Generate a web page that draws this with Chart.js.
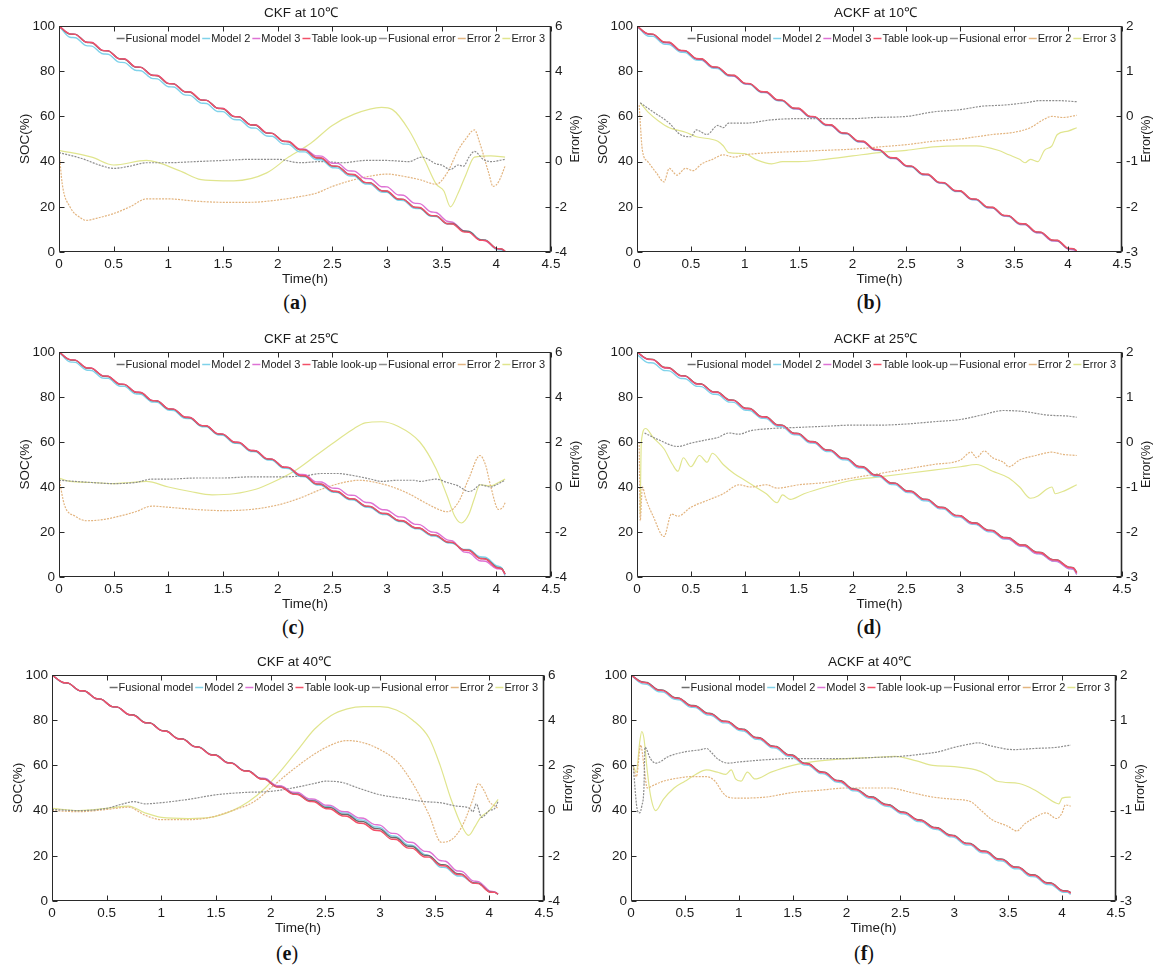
<!DOCTYPE html>
<html>
<head>
<meta charset="utf-8">
<title>SOC estimation with CKF / ACKF</title>
<script src="https://cdn.jsdelivr.net/npm/chart.js@4.4.0/dist/chart.umd.min.js"></script>
<style>
  body { margin: 0; width: 1169px; height: 965px; background: #fff; position: relative; overflow: hidden; }
  canvas { position: absolute; }
  .tag { position: absolute; width: 60px; margin-left: -30px; text-align: center; font: 20px "Liberation Serif", "DejaVu Serif", serif; color: #111; line-height: 20px; }
</style>
</head>
<body>
<script>
'use strict';

// time of the SOC samples (h): start and end of every discharge pulse
const socTime = [0,0.1,0.15,0.25,0.3,0.4,0.45,0.55,0.6,0.7,0.75,0.85,0.9,1,1.05,1.15,1.2,1.3,1.35,1.45,1.5,1.6,1.65,1.75,1.8,1.9,1.95,2.05,2.1,2.2,2.25,2.35,2.4,2.5,2.55,2.65,2.7,2.8,2.85,2.95,3,3.1,3.15,3.25,3.3,3.4,3.45,3.55,3.6,3.7,3.75,3.85,3.9,4,4.05,4.08];

// SOC (%) - CKF at 10°C
const fusSocA = [100,96.4,96.3,92.8,92.6,89.1,89.0,85.5,85.3,81.8,81.7,78.2,78.0,74.5,74.4,70.9,70.7,67.2,67.1,63.6,63.4,59.9,59.8,56.3,56.1,52.6,52.5,49.0,48.8,45.3,45.2,41.7,41.5,38.0,37.9,34.4,34.2,30.7,30.6,27.1,26.9,23.4,23.3,19.8,19.6,16.1,16.0,12.6,12.6,9.3,9.1,5.4,5.2,1.6,1.3,0.3];
const m2SocA = [100,95.0,94.8,91.3,91.1,87.7,87.5,84.0,83.8,80.4,80.2,76.8,76.6,73.1,73.0,69.5,69.3,65.9,65.7,62.2,62.1,58.6,58.5,55.0,54.8,51.3,51.2,47.8,47.7,44.3,44.3,40.9,40.8,37.3,37.2,33.7,33.6,30.1,30.0,26.5,26.4,22.9,22.8,19.3,19.2,15.8,15.7,12.4,12.4,9.2,9.1,5.6,5.3,1.2,0.9,0];
const m3SocA = [100,96.5,96.3,92.8,92.7,89.2,89.0,85.5,85.4,81.9,81.7,78.2,78.1,74.6,74.4,70.9,70.8,67.3,67.1,63.6,63.5,60.0,59.8,56.3,56.2,52.7,52.5,49.0,48.9,45.6,45.5,42.5,42.4,39.3,39.2,35.9,35.8,32.5,32.4,28.9,28.8,25.3,25.1,21.6,21.4,17.8,17.5,13.6,13.2,9.3,8.9,5.3,5.0,1.5,1.2,0.2];
const refSocA = [100,96.5,96.3,92.8,92.7,89.2,89.0,85.5,85.4,81.9,81.7,78.2,78.1,74.6,74.4,70.9,70.8,67.3,67.1,63.6,63.5,60.0,59.8,56.3,56.2,52.7,52.5,49.0,48.9,45.4,45.2,41.7,41.6,38.1,37.9,34.4,34.3,30.8,30.6,27.1,27.0,23.5,23.3,19.8,19.7,16.2,16.0,12.5,12.4,8.9,8.7,5.2,5.1,1.6,1.4,0.4];

// SOC (%) - ACKF at 10°C
const fusSocB = [100,96.5,96.3,92.8,92.7,89.2,89.0,85.5,85.4,81.9,81.7,78.2,78.1,74.6,74.4,70.9,70.8,67.3,67.1,63.6,63.5,60.0,59.8,56.3,56.2,52.7,52.5,49.0,48.9,45.4,45.2,41.7,41.6,38.1,37.9,34.4,34.3,30.8,30.6,27.1,27.0,23.5,23.3,19.8,19.7,16.2,16.0,12.5,12.4,8.9,8.7,5.2,5.1,1.6,1.4,0.4];
const m2SocB = [100,95.6,95.4,92.0,91.8,88.5,88.3,84.9,84.8,81.4,81.2,77.8,77.7,74.3,74.1,70.6,70.5,67.0,66.8,63.3,63.2,59.7,59.5,56.0,55.9,52.4,52.2,48.7,48.6,45.1,44.9,41.4,41.3,37.8,37.6,34.1,34.0,30.5,30.3,26.8,26.7,23.2,23.0,19.5,19.4,15.9,15.7,12.2,12.1,8.6,8.4,4.9,4.8,1.3,1.1,0.2];
const m3SocB = [100,96.4,96.2,92.7,92.5,89.0,88.9,85.4,85.2,81.7,81.6,78.1,77.9,74.4,74.3,70.8,70.6,67.1,67.0,63.5,63.3,59.8,59.7,56.2,56.0,52.5,52.4,48.9,48.7,45.2,45.1,41.6,41.4,37.9,37.8,34.3,34.1,30.6,30.5,27.0,26.8,23.3,23.2,19.7,19.5,16.0,15.9,12.3,12.1,8.6,8.4,4.9,4.8,1.3,1.0,0.1];
const refSocB = [100,96.6,96.4,92.9,92.8,89.3,89.1,85.6,85.5,82.0,81.8,78.3,78.2,74.7,74.5,71.0,70.9,67.4,67.2,63.7,63.6,60.1,59.9,56.4,56.3,52.8,52.6,49.1,49.0,45.5,45.3,41.8,41.7,38.2,38.0,34.5,34.4,30.9,30.7,27.2,27.1,23.6,23.4,19.9,19.8,16.3,16.1,12.6,12.5,9.0,8.8,5.3,5.2,1.7,1.5,0.5];

// SOC (%) - CKF at 25°C
const fusSocC = [100,96.5,96.3,92.9,92.7,89.3,89.1,85.7,85.5,82.1,81.9,78.4,78.2,74.7,74.5,71.0,70.8,67.3,67.1,63.6,63.4,59.9,59.7,56.2,56.0,52.5,52.3,48.8,48.6,45.1,44.9,41.4,41.2,38.1,37.9,34.8,34.6,31.5,31.3,28.3,28.1,25.1,24.9,21.9,21.7,18.7,18.5,15.5,15.3,12.0,11.9,8.3,8.1,4.4,3.7,1.4];
const m2SocC = [100,95.6,95.4,92.0,91.8,88.4,88.3,84.9,84.7,81.4,81.2,77.8,77.6,74.2,74.0,70.5,70.4,66.9,66.7,63.2,63.0,59.5,59.3,55.8,55.6,52.1,51.9,48.4,48.2,44.7,44.5,41.0,40.8,37.7,37.5,34.4,34.2,31.1,30.9,27.9,27.7,24.7,24.5,21.5,21.3,18.3,18.1,15.2,15.0,12.3,12.2,9.0,8.8,5.0,4.0,0.6];
const m3SocC = [100,96.6,96.4,93.0,92.8,89.4,89.2,85.8,85.6,82.2,82.0,78.5,78.3,74.8,74.6,71.1,70.9,67.4,67.2,63.7,63.5,60.0,59.8,56.3,56.1,52.6,52.4,48.9,48.7,45.6,45.5,42.3,42.2,39.5,39.4,36.4,36.3,33.2,33.0,30.0,29.8,26.8,26.6,23.5,23.3,20.1,19.8,16.5,16.0,11.2,10.8,7.2,7.0,3.8,3.4,1.2];
const refSocC = [100,96.6,96.4,93.0,92.8,89.4,89.2,85.8,85.6,82.2,82.0,78.5,78.3,74.8,74.6,71.1,70.9,67.4,67.2,63.7,63.5,60.0,59.8,56.3,56.1,52.6,52.4,48.9,48.7,45.2,45.0,41.5,41.3,38.2,38.0,34.9,34.7,31.6,31.4,28.4,28.2,25.2,25.0,22.0,21.8,18.8,18.6,15.6,15.4,12.0,11.8,8.2,8.0,4.2,3.6,1.3];

// SOC (%) - ACKF at 25°C
const fusSocD = [100,96.9,96.7,93.2,93.0,89.6,89.4,86.0,85.8,82.4,82.2,78.8,78.6,75.1,74.9,71.4,71.2,67.7,67.5,64.0,63.8,60.3,60.1,56.6,56.4,52.9,52.7,49.2,49.0,45.5,45.3,41.9,41.7,38.3,38.1,34.7,34.5,31.1,30.9,27.5,27.3,24.2,24.0,20.9,20.7,17.6,17.5,14.4,14.2,11.1,10.9,7.8,7.6,4.5,4.1,2.0];
const m2SocD = [99.0,95.3,95.1,91.8,91.6,88.3,88.1,84.8,84.6,81.3,81.1,77.8,77.6,74.2,74.0,70.6,70.4,67.0,66.8,63.3,63.1,59.6,59.4,55.9,55.7,52.2,52.0,48.5,48.3,44.8,44.6,41.2,41.0,37.6,37.4,34.0,33.8,30.4,30.2,26.8,26.6,23.5,23.3,20.2,20.0,16.9,16.8,13.7,13.5,10.4,10.2,7.1,6.9,3.8,3.4,1.2];
const m3SocD = [100,96.7,96.5,93.0,92.8,89.4,89.2,85.8,85.6,82.2,82.0,78.6,78.4,74.9,74.7,71.2,71.0,67.5,67.3,63.8,63.6,60.1,59.9,56.4,56.2,52.7,52.5,49.0,48.8,45.3,45.1,41.7,41.5,38.1,37.9,34.5,34.3,30.9,30.7,27.3,27.1,23.9,23.7,20.6,20.4,17.2,17.0,13.9,13.7,10.5,10.3,7.2,7.0,3.9,3.5,1.2];
const refSocD = [100,96.8,96.6,93.1,92.9,89.5,89.3,85.9,85.7,82.3,82.1,78.7,78.5,75.0,74.8,71.3,71.1,67.6,67.4,63.9,63.7,60.2,60.0,56.5,56.3,52.8,52.6,49.1,48.9,45.4,45.2,41.8,41.6,38.2,38.0,34.6,34.4,31.0,30.8,27.4,27.2,24.1,23.9,20.8,20.6,17.5,17.4,14.3,14.1,11.0,10.8,7.7,7.5,4.4,4.0,1.8];

// SOC (%) - CKF at 40°C
const fusSocE = [100,96.7,96.4,93.1,92.9,89.6,89.3,86.0,85.8,82.5,82.3,79.0,78.8,75.5,75.2,71.9,71.7,68.4,68.1,64.8,64.6,61.3,61.0,57.7,57.5,54.2,53.9,50.6,50.4,47.5,47.3,44.4,44.3,41.4,41.3,38.4,38.3,35.3,35.1,32.1,31.9,28.2,28.0,24.3,24.1,20.3,20.1,16.2,16.0,12.2,11.9,8.1,7.9,4.1,3.8,3.0];
const m2SocE = [100,96.6,96.3,93.0,92.8,89.5,89.2,85.9,85.7,82.4,82.2,78.9,78.7,75.4,75.1,71.8,71.6,68.3,68.1,64.8,64.6,61.3,61.0,57.8,57.6,54.3,54.1,50.9,50.7,47.8,47.7,44.8,44.7,41.9,41.8,39.0,38.9,36.0,35.8,32.8,32.6,28.9,28.6,24.9,24.6,20.8,20.0,15.0,14.8,11.2,11.0,8.0,7.8,4.3,3.9,3.0];
const m3SocE = [100,96.7,96.4,93.1,92.9,89.6,89.3,86.0,85.8,82.5,82.2,78.9,78.7,75.4,75.1,71.8,71.6,68.3,68.0,64.7,64.5,61.2,61.0,57.8,57.6,54.4,54.2,51.1,50.9,48.1,48.0,45.2,45.1,42.4,42.3,39.6,39.5,36.8,36.6,33.8,33.6,30.0,29.8,26.1,25.9,22.1,21.8,17.9,17.6,13.4,13.1,8.9,8.6,4.5,4.0,3.0];
const refSocE = [100,96.7,96.4,93.1,92.9,89.6,89.3,86.0,85.8,82.5,82.2,78.9,78.7,75.4,75.1,71.8,71.6,68.3,68.0,64.7,64.5,61.2,60.9,57.6,57.4,54.1,53.8,50.5,50.3,47.3,47.1,44.1,43.9,40.9,40.7,37.7,37.5,34.5,34.3,31.3,31.1,27.4,27.2,23.5,23.3,19.6,19.4,15.7,15.5,11.8,11.6,7.9,7.7,4.0,3.8,3.0];

// SOC (%) - ACKF at 40°C
const fusSocF = [100,97.0,96.7,93.5,93.3,90.1,89.8,86.6,86.4,83.2,82.9,79.7,79.5,76.3,76.0,72.5,72.2,68.7,68.4,64.9,64.6,61.1,60.8,57.3,57.0,53.5,53.2,49.7,49.4,46.3,46.0,42.9,42.6,39.5,39.2,36.1,35.8,32.7,32.4,29.3,29.0,25.7,25.5,22.2,22.0,18.7,18.5,15.2,15.0,11.7,11.5,8.2,8.0,4.7,4.5,3.7];
const m2SocF = [100,96.2,95.9,92.7,92.5,89.3,89.0,85.8,85.6,82.4,82.1,78.9,78.7,75.5,75.2,71.7,71.4,67.9,67.6,64.1,63.8,60.3,60.0,56.5,56.2,52.7,52.4,48.9,48.6,45.5,45.2,42.1,41.8,38.7,38.4,35.3,35.0,31.9,31.6,28.5,28.2,24.9,24.7,21.4,21.2,17.9,17.7,14.4,14.2,10.9,10.7,7.4,7.2,4.0,3.8,2.9];
const m3SocF = [100,96.9,96.6,93.4,93.1,89.9,89.6,86.4,86.2,83.0,82.7,79.5,79.3,76.1,75.8,72.3,72.0,68.5,68.2,64.7,64.4,60.9,60.6,57.1,56.8,53.3,53.0,49.5,49.2,46.1,45.8,42.7,42.4,39.3,39.0,35.9,35.6,32.5,32.2,29.1,28.8,25.5,25.3,22.0,21.8,18.5,18.3,15.0,14.8,11.5,11.3,8.0,7.8,4.6,4.3,3.6];
const refSocF = [100,96.8,96.5,93.3,93.1,89.9,89.6,86.4,86.2,83.0,82.7,79.5,79.3,76.1,75.8,72.3,72.0,68.5,68.2,64.7,64.4,60.9,60.6,57.1,56.8,53.3,53.0,49.5,49.2,46.1,45.8,42.7,42.4,39.3,39.0,35.9,35.6,32.5,32.2,29.1,28.8,25.5,25.3,22.0,21.8,18.5,18.3,15.0,14.8,11.5,11.3,8.0,7.8,4.5,4.3,3.5];

// estimation errors (%), every trace with its own sample times (h)
const fusErrTimeA = [0,0.2,0.4,0.5,0.65,0.8,1.0,1.25,1.5,1.75,2.0,2.2,2.4,2.6,2.8,3.0,3.2,3.32,3.45,3.5,3.58,3.65,3.7,3.75,3.8,3.88,3.95,4.08];
const fusErrA = [0.4,0.15,-0.2,-0.3,-0.2,-0.05,-0.05,0,0.05,0.1,0.1,-0.05,0,-0.05,0.05,0.05,0,0.2,-0.1,-0.15,-0.35,-0.15,-0.2,0.2,0.45,0.1,0,0.1];
const err2TimeA = [0,0.03,0.1,0.2,0.25,0.35,0.5,0.65,0.8,1.0,1.25,1.5,1.75,2.0,2.2,2.35,2.5,2.7,2.9,3.0,3.15,3.3,3.45,3.55,3.65,3.72,3.8,3.85,3.93,3.97,4.02,4.08];
const err2A = [0.5,-1.0,-2.0,-2.5,-2.6,-2.5,-2.3,-2.0,-1.65,-1.65,-1.75,-1.8,-1.8,-1.7,-1.55,-1.4,-1.1,-0.8,-0.6,-0.55,-0.65,-0.8,-1.0,-0.5,0.5,1.0,1.4,0.8,-0.5,-1.1,-0.9,-0.2];
const err3TimeA = [0,0.3,0.5,0.8,1.1,1.3,1.5,1.6,1.9,2.1,2.3,2.5,2.7,2.95,3.05,3.2,3.35,3.45,3.52,3.58,3.65,3.72,3.8,3.95,4.08];
const err3A = [0.5,0.2,-0.15,0.05,-0.4,-0.8,-0.85,-0.85,-0.5,0.2,0.8,1.6,2.1,2.4,2.3,1.4,0,-1.0,-1.3,-2.0,-1.4,-0.6,0.2,0.25,0.2];

const fusErrTimeB = [0.03,0.15,0.3,0.4,0.5,0.55,0.65,0.75,0.8,0.85,1.0,1.25,1.5,2.0,2.2,2.5,2.75,3.0,3.2,3.4,3.6,3.75,3.9,4.08];
const fusErrB = [0.3,0.1,-0.15,-0.4,-0.45,-0.3,-0.4,-0.2,-0.25,-0.15,-0.15,-0.075,-0.05,-0.05,-0.025,0,0.1,0.15,0.225,0.25,0.3,0.35,0.35,0.325];
const err2TimeB = [0.02,0.05,0.1,0.18,0.25,0.3,0.37,0.45,0.52,0.6,0.7,0.8,0.9,1.0,1.25,1.5,1.75,2.0,2.25,2.5,2.75,3.0,3.15,3.3,3.5,3.65,3.75,3.85,3.95,4.08];
const err2B = [0.25,-0.75,-1.0,-1.25,-1.45,-1.15,-1.3,-1.15,-1.2,-1.05,-0.95,-0.85,-0.9,-0.85,-0.8,-0.775,-0.75,-0.725,-0.675,-0.625,-0.55,-0.5,-0.45,-0.4,-0.35,-0.25,-0.1,0,-0.025,0.025];
const err3TimeB = [0.03,0.1,0.2,0.3,0.45,0.55,0.75,0.8,0.85,1.0,1.1,1.25,1.35,1.5,1.75,2.0,2.25,2.5,2.75,3.0,3.15,3.35,3.45,3.55,3.6,3.65,3.72,3.78,3.85,3.9,4.0,4.08];
const err3B = [0.3,0.1,-0.1,-0.25,-0.35,-0.45,-0.55,-0.65,-0.8,-0.825,-0.95,-1.05,-1.0,-1.0,-0.95,-0.875,-0.8,-0.75,-0.675,-0.65,-0.65,-0.75,-0.85,-0.95,-1.025,-0.95,-1.0,-0.75,-0.65,-0.4,-0.325,-0.25];

const fusErrTimeC = [0,0.3,0.5,0.7,0.85,1.0,1.25,1.5,1.75,2.0,2.25,2.4,2.55,2.7,2.85,2.95,3.1,3.25,3.3,3.45,3.55,3.65,3.75,3.8,3.85,3.95,4.0,4.08];
const fusErrC = [0.3,0.2,0.15,0.2,0.35,0.35,0.4,0.4,0.45,0.45,0.5,0.6,0.6,0.5,0.35,0.25,0.3,0.3,0.25,0.35,0.2,0.05,-0.2,-0.1,0.1,0,0.1,0.3];
const err2TimeC = [0,0.05,0.15,0.25,0.4,0.55,0.7,0.85,1.0,1.25,1.5,1.75,2.0,2.2,2.4,2.6,2.75,2.9,3.05,3.2,3.35,3.5,3.55,3.65,3.75,3.85,3.9,3.95,4.02,4.06,4.08];
const err2C = [0.4,-0.8,-1.3,-1.5,-1.45,-1.3,-1.1,-0.85,-0.9,-1.0,-1.05,-1.0,-0.8,-0.5,-0.1,0.2,0.3,0.2,0,-0.3,-0.7,-1.05,-1.1,-0.7,0.4,1.4,1.0,0,-1.0,-0.9,-0.7];
const err3TimeC = [0,0.1,0.3,0.5,0.65,0.8,1.0,1.2,1.4,1.6,1.8,1.95,2.15,2.35,2.55,2.7,2.8,2.95,3.1,3.3,3.45,3.55,3.62,3.68,3.75,3.8,3.85,3.95,4.02,4.08];
const err3C = [0.4,0.25,0.2,0.15,0.2,0.25,0,-0.2,-0.35,-0.3,-0.1,0.2,0.7,1.4,2.1,2.6,2.85,2.9,2.7,2.0,0.8,-0.4,-1.3,-1.6,-1.2,-0.5,0.1,0.05,0.2,0.35];

const fusErrTimeD = [0.07,0.2,0.38,0.5,0.65,0.75,0.85,0.95,1.05,1.25,1.5,1.75,2.0,2.25,2.5,2.75,3.0,3.2,3.4,3.6,3.8,4.0,4.08];
const fusErrD = [0.2,0.05,-0.1,-0.025,0.05,0.1,0.2,0.175,0.25,0.3,0.325,0.35,0.375,0.375,0.4,0.45,0.5,0.6,0.7,0.675,0.6,0.575,0.55];
const err2TimeD = [0.02,0.03,0.05,0.08,0.15,0.25,0.32,0.38,0.5,0.65,0.8,0.95,1.05,1.2,1.3,1.5,1.75,2.0,2.25,2.5,2.75,3.0,3.1,3.15,3.22,3.3,3.4,3.45,3.55,3.7,3.85,3.95,4.08];
const err2D = [0,-1.75,-1.0,-1.25,-1.65,-2.1,-1.6,-1.65,-1.45,-1.3,-1.15,-0.95,-1.0,-0.95,-1.025,-0.95,-0.9,-0.8,-0.7,-0.6,-0.5,-0.4,-0.225,-0.35,-0.2,-0.35,-0.45,-0.55,-0.4,-0.3,-0.225,-0.275,-0.3];
const err3TimeD = [0.03,0.04,0.08,0.15,0.25,0.33,0.38,0.43,0.5,0.58,0.65,0.7,0.8,0.9,1.0,1.1,1.2,1.3,1.35,1.42,1.55,1.75,2.0,2.25,2.5,2.75,3.0,3.15,3.3,3.45,3.55,3.65,3.72,3.8,3.85,3.88,3.95,4.08];
const err3D = [-1.6,0,0.3,0.1,-0.15,-0.5,-0.65,-0.35,-0.55,-0.3,-0.45,-0.25,-0.5,-0.7,-0.85,-1.0,-1.15,-1.35,-1.175,-1.275,-1.15,-1.0,-0.85,-0.775,-0.7,-0.625,-0.55,-0.5,-0.65,-0.8,-1.0,-1.25,-1.2,-1.05,-1.0,-1.15,-1.1,-0.95];

const fusErrTimeE = [0,0.25,0.5,0.65,0.75,0.85,1.0,1.25,1.5,1.75,2.0,2.2,2.4,2.5,2.65,2.8,3.0,3.2,3.4,3.55,3.7,3.82,3.85,3.88,3.93,4.0,4.05,4.08];
const fusErrE = [0.05,0,0.1,0.3,0.4,0.3,0.35,0.5,0.7,0.8,0.85,1.0,1.2,1.3,1.25,1.0,0.7,0.55,0.4,0.35,0.2,0.1,-0.05,0.3,-0.3,0,0.1,0.4];
const err2TimeE = [0,0.25,0.5,0.7,0.85,1.0,1.25,1.45,1.65,1.85,2.0,2.2,2.4,2.55,2.7,2.85,3.0,3.15,3.3,3.45,3.56,3.65,3.75,3.85,3.9,3.95,4.0,4.05,4.08];
const err2E = [0,-0.05,0.05,0.15,-0.2,-0.4,-0.4,-0.3,0,0.4,1.0,1.8,2.5,2.9,3.1,3.0,2.7,2.2,1.2,-0.2,-1.4,-1.3,-0.7,0.5,1.2,0.9,0.4,0.2,0.1];
const err3TimeE = [0,0.25,0.5,0.7,0.85,1.0,1.25,1.45,1.65,1.8,1.95,2.1,2.25,2.4,2.55,2.7,2.85,3.0,3.15,3.3,3.45,3.55,3.65,3.75,3.81,3.87,3.92,4.0,4.05,4.08];
const err3E = [0.1,0,0.1,0.2,-0.1,-0.3,-0.35,-0.3,0,0.4,1.0,1.8,2.7,3.6,4.2,4.5,4.6,4.6,4.45,4.0,3.2,2.0,0.5,-0.7,-1.1,-0.7,-0.3,0,0.3,0.5];

const fusErrTimeF = [0.02,0.06,0.08,0.1,0.12,0.13,0.18,0.23,0.35,0.5,0.65,0.7,0.75,0.8,0.9,1.0,1.25,1.5,1.75,2.0,2.25,2.5,2.7,2.85,3.0,3.15,3.22,3.35,3.55,3.75,3.95,4.08];
const fusErrF = [0,-1.0,-1.05,-0.9,-0.5,0.4,0.15,0.05,0.2,0.3,0.35,0.375,0.275,0.15,0.05,0.075,0.125,0.15,0.15,0.15,0.175,0.2,0.25,0.3,0.4,0.475,0.5,0.425,0.35,0.375,0.4,0.45];
const err2TimeF = [0.02,0.05,0.09,0.12,0.15,0.2,0.3,0.45,0.55,0.7,0.78,0.85,0.9,1.0,1.25,1.5,1.75,2.0,2.25,2.4,2.6,2.8,3.0,3.15,3.25,3.35,3.5,3.58,3.65,3.75,3.85,3.95,4.0,4.03,4.08];
const err2F = [0,-0.25,0.45,0,-0.5,-0.45,-0.35,-0.275,-0.25,-0.25,-0.35,-0.6,-0.7,-0.725,-0.7,-0.6,-0.55,-0.5,-0.5,-0.5,-0.6,-0.7,-0.75,-0.8,-1.0,-1.2,-1.35,-1.45,-1.3,-1.15,-1.05,-1.175,-1.05,-0.875,-0.9];
const err3TimeF = [0.02,0.05,0.08,0.1,0.12,0.15,0.18,0.23,0.3,0.4,0.5,0.6,0.7,0.8,0.88,0.93,0.97,1.02,1.08,1.15,1.3,1.5,1.75,2.0,2.25,2.45,2.65,2.8,3.0,3.2,3.3,3.4,3.6,3.75,3.85,3.97,4.0,4.08];
const err3F = [0,-0.15,0.5,0.75,0.6,-0.1,-0.65,-1.0,-0.75,-0.5,-0.35,-0.2,-0.1,-0.15,-0.2,-0.1,-0.3,-0.35,-0.15,-0.3,-0.15,0,0.1,0.15,0.175,0.2,0.1,0,-0.025,-0.1,-0.2,-0.35,-0.4,-0.55,-0.7,-0.85,-0.725,-0.7];

// axis ticks
const xTicks = [0, 0.5, 1, 1.5, 2, 2.5, 3, 3.5, 4, 4.5];
const socTicks = [0, 20, 40, 60, 80, 100];
const errTicksCkf = [-4, -2, 0, 2, 4, 6];
const errTicksAckf = [-3, -2, -1, 0, 1, 2];

const seriesNames = ['Fusional model', 'Model 2', 'Model 3', 'Table look-up', 'Fusional error', 'Error 2', 'Error 3'];
const seriesColors = ['#6c6c6c', '#7fd2ea', '#de72d4', '#f25068', '#8e8e8e', '#e3b580', '#e0e58e'];
const seriesOrder = [1, 3, 2, 0, 4, 5, 6];

// widths reserved around each plot box
const AXIS_L = 42, AXIS_R = 34, TITLE_H = 26, AXIS_B = 35;

const panels = [
  { box: [59, 26, 551, 252], title: 'CKF at 10℃', tag: 'a', tagPos: [295, 292],
    soc: [fusSocA, m2SocA, m3SocA, refSocA], errTicks: errTicksCkf,
    err: [[fusErrTimeA, fusErrA], [err2TimeA, err2A], [err3TimeA, err3A]] },
  { box: [637, 26, 1122, 252], title: 'ACKF at 10℃', tag: 'b', tagPos: [869, 292],
    soc: [fusSocB, m2SocB, m3SocB, refSocB], errTicks: errTicksAckf,
    err: [[fusErrTimeB, fusErrB], [err2TimeB, err2B], [err3TimeB, err3B]] },
  { box: [59, 352, 551, 577], title: 'CKF at 25℃', tag: 'c', tagPos: [293, 617],
    soc: [fusSocC, m2SocC, m3SocC, refSocC], errTicks: errTicksCkf,
    err: [[fusErrTimeC, fusErrC], [err2TimeC, err2C], [err3TimeC, err3C]] },
  { box: [637, 352, 1122, 577], title: 'ACKF at 25℃', tag: 'd', tagPos: [869, 617],
    soc: [fusSocD, m2SocD, m3SocD, refSocD], errTicks: errTicksAckf,
    err: [[fusErrTimeD, fusErrD], [err2TimeD, err2D], [err3TimeD, err3D]] },
  { box: [52, 675, 544, 901], title: 'CKF at 40℃', tag: 'e', tagPos: [287, 943],
    soc: [fusSocE, m2SocE, m3SocE, refSocE], errTicks: errTicksCkf,
    err: [[fusErrTimeE, fusErrE], [err2TimeE, err2E], [err3TimeE, err3E]] },
  { box: [631, 675, 1116, 901], title: 'ACKF at 40℃', tag: 'f', tagPos: [864, 943],
    soc: [fusSocF, m2SocF, m3SocF, refSocF], errTicks: errTicksAckf,
    err: [[fusErrTimeF, fusErrF], [err2TimeF, err2F], [err3TimeF, err3F]] }
];

Chart.defaults.font.family = '"Liberation Sans", Arial, sans-serif';
Chart.defaults.color = '#1c1c1c';

// box axes with inward ticks, right axis label and the legend inside the plot
const boxFrame = {
  id: 'boxFrame',
  afterDatasetsDraw(chart) {
    const { ctx, chartArea: a, scales } = chart;
    const l = Math.round(a.left) + 0.5, r = Math.round(a.right) - 0.5;
    const t = Math.round(a.top) + 0.5, b = Math.round(a.bottom) - 0.5;
    const tick = 5;
    ctx.save();
    ctx.strokeStyle = '#2a2a2a';
    ctx.lineWidth = 1;
    ctx.beginPath();
    ctx.rect(l, t, r - l, b - t);
    scales.x.ticks.forEach(tk => {
      const px = Math.round(scales.x.getPixelForValue(tk.value)) + 0.5;
      ctx.moveTo(px, b); ctx.lineTo(px, b - tick);
      ctx.moveTo(px, t); ctx.lineTo(px, t + tick);
    });
    scales.y.ticks.forEach(tk => {
      const py = Math.round(scales.y.getPixelForValue(tk.value)) + 0.5;
      ctx.moveTo(l, py); ctx.lineTo(l + tick, py);
    });
    scales.y1.ticks.forEach(tk => {
      const py = Math.round(scales.y1.getPixelForValue(tk.value)) + 0.5;
      ctx.moveTo(r, py); ctx.lineTo(r - tick, py);
    });
    ctx.stroke();
    ctx.beginPath();
    ctx.lineWidth = 1.6;
    ctx.moveTo(r, t); ctx.lineTo(r, b);
    ctx.stroke();

    // right axis title, reading bottom to top
    ctx.fillStyle = '#1c1c1c';
    ctx.font = '12.5px "Liberation Sans", Arial, sans-serif';
    ctx.textAlign = 'center';
    ctx.textBaseline = 'middle';
    ctx.translate(a.right + 25, (a.top + a.bottom) / 2);
    ctx.rotate(-Math.PI / 2);
    ctx.fillText('Error(%)', 0, 0);
    ctx.setTransform(1, 0, 0, 1, 0, 0);

    // legend: short line then label, all on one row at the top right
    ctx.font = '11px "Liberation Sans", Arial, sans-serif';
    ctx.textAlign = 'left';
    const items = chart.data.datasets.map(d => ({ text: d.label, color: d.borderColor, w: ctx.measureText(d.label).width }));
    const mark = 8, gap = 1, space = 2;
    const total = items.reduce((s, it) => s + mark + gap + it.w + space, 0) - space;
    let xPos = a.right - 6 - total;
    const yMid = a.top + 12.5;
    items.forEach(it => {
      ctx.strokeStyle = it.color;
      ctx.lineWidth = 1.5;
      ctx.beginPath();
      ctx.moveTo(xPos, yMid);
      ctx.lineTo(xPos + mark, yMid);
      ctx.stroke();
      ctx.fillStyle = '#222';
      ctx.fillText(it.text, xPos + mark + gap, yMid);
      xPos += mark + gap + it.w + space;
    });
    ctx.restore();
  }
};

function fixedTicks(values) {
  return scale => { scale.ticks = values.map(v => ({ value: v })); };
}

function makePanel(p) {
  const [left, top, right, bottom] = p.box;
  const w = right - left + AXIS_L + AXIS_R;
  const h = bottom - top + TITLE_H + AXIS_B;
  const canvas = document.createElement('canvas');
  canvas.width = w;
  canvas.height = h;
  canvas.style.left = (left - AXIS_L) + 'px';
  canvas.style.top = (top - TITLE_H) + 'px';
  canvas.style.width = w + 'px';
  canvas.style.height = h + 'px';
  document.body.appendChild(canvas);

  const datasets = [];
  p.soc.forEach((vals, i) => {
    datasets.push({
      label: seriesNames[i],
      data: vals.map((v, k) => ({ x: socTime[k], y: v })),
      borderColor: seriesColors[i],
      borderWidth: 1.4,
      order: seriesOrder[i],
      yAxisID: 'y',
      cubicInterpolationMode: 'monotone'
    });
  });
  p.err.forEach(([times, vals], i) => {
    const j = i + 4;
    datasets.push({
      label: seriesNames[j],
      data: vals.map((v, k) => ({ x: times[k], y: v })),
      borderColor: seriesColors[j],
      borderWidth: 1.2,
      borderDash: j === 6 ? [] : [2, 1.2],
      order: seriesOrder[j],
      yAxisID: 'y1',
      cubicInterpolationMode: 'monotone'
    });
  });

  const tickFont = { size: 13.5 };
  const noGrid = { display: false, drawTicks: false };
  new Chart(canvas, {
    type: 'line',
    data: { datasets },
    options: {
      responsive: false,
      animation: false,
      events: [],
      layout: { padding: 0 },
      elements: { point: { radius: 0 } },
      plugins: {
        legend: { display: false },
        tooltip: { enabled: false },
        title: {
          display: true,
          text: p.title,
          color: '#1a1a1a',
          font: { size: 13.5, weight: 'normal', lineHeight: 1 },
          padding: { top: 6.5, bottom: 6 }
        }
      },
      scales: {
        x: {
          type: 'linear', min: 0, max: 4.5,
          afterBuildTicks: fixedTicks(xTicks),
          afterFit: s => { s.height = AXIS_B; },
          grid: noGrid,
          border: { display: false },
          ticks: { font: tickFont, padding: 4, maxRotation: 0, callback: v => String(v) },
          title: { display: true, text: 'Time(h)', font: { size: 13.5 }, padding: 0 }
        },
        y: {
          position: 'left', min: 0, max: 100,
          afterBuildTicks: fixedTicks(socTicks),
          afterFit: s => { s.width = AXIS_L; },
          grid: noGrid,
          border: { display: false },
          ticks: { font: tickFont, padding: 4, callback: v => String(v) },
          title: { display: true, text: 'SOC(%)', font: { size: 13.5 }, padding: 0 }
        },
        y1: {
          position: 'right',
          min: p.errTicks[0], max: p.errTicks[p.errTicks.length - 1],
          afterBuildTicks: fixedTicks(p.errTicks),
          afterFit: s => { s.width = AXIS_R; },
          grid: noGrid,
          border: { display: false },
          ticks: { font: tickFont, padding: 4, callback: v => String(v) }
        }
      }
    },
    plugins: [boxFrame]
  });

  // subfigure letter under the plot
  const tag = document.createElement('div');
  tag.className = 'tag';
  tag.style.left = p.tagPos[0] + 'px';
  tag.style.top = p.tagPos[1] + 'px';
  tag.append('(');
  const letter = document.createElement('b');
  letter.textContent = p.tag;
  tag.append(letter, ')');
  document.body.appendChild(tag);
}

panels.forEach(makePanel);
</script>
</body>
</html>
